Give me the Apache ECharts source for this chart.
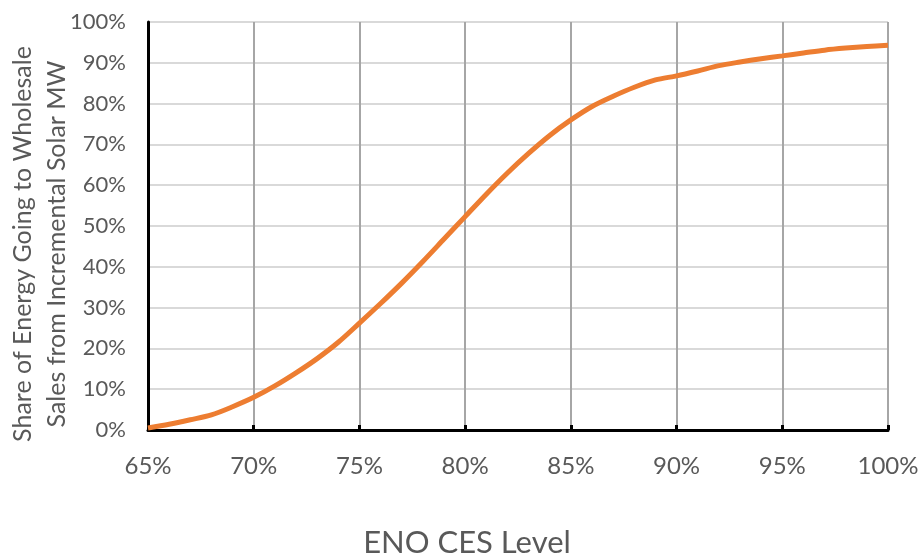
<!DOCTYPE html>
<html>
<head>
<meta charset="utf-8">
<script src="https://cdn.jsdelivr.net/npm/echarts@6/dist/echarts.min.js"></script>
<style>
  html, body { margin: 0; padding: 0; background: #fff; }
  #chart { width: 924px; height: 557px; }
</style>
</head>
<body>
<div id="chart"></div>
<script>
// CES level (%) and share of incremental solar energy sold wholesale (%)
const cesLevel = [65, 66, 67, 68, 69, 70, 71, 72, 73, 74, 75, 76, 77, 78, 79, 80, 81, 82,
  83, 84, 85, 86, 87, 88, 89, 90, 91, 92, 93, 94, 95, 96, 97, 98, 99, 100];
const wholesaleShare = [0.5, 1.4, 2.5, 3.7, 5.7, 8.0, 10.8, 14.0, 17.5, 21.5, 26.2, 31.0,
  36.0, 41.3, 46.8, 52.3, 57.8, 63.0, 67.8, 72.2, 76.0, 79.3, 81.8, 84.0, 85.8, 86.8,
  88.0, 89.3, 90.2, 91.0, 91.7, 92.4, 93.1, 93.6, 94.0, 94.3];

const xTitle = 'ENO CES Level';
const yTitleLines = ['Share of Energy Going to Wholesale', 'Sales from Incremental Solar MW'];

const points = cesLevel.map((x, i) => [x, wholesaleShare[i]]);

const font = 'Lato, "Open Sans", sans-serif';
const textGrey = '#595959';

// rotated two-line y-axis title, one text element per line
const yTitleX = [23, 57];
const yTitleGraphics = yTitleLines.map((line, i) => ({
  type: 'text',
  x: yTitleX[i], y: 244,
  rotation: Math.PI / 2,
  style: {
    text: line,
    fontFamily: font, fontSize: 25, fill: textGrey,
    align: 'center', verticalAlign: 'middle'
  }
}));

const chart = echarts.init(document.getElementById('chart'), null, { renderer: 'canvas' });
chart.setOption({
  animation: false,
  backgroundColor: '#ffffff',
  grid: { left: 148, right: 36, top: 22, bottom: 127, containLabel: false, outerBoundsMode: 'none' },
  graphic: [{
    type: 'text',
    x: 467, y: 543,
    style: {
      text: xTitle,
      fontFamily: font, fontSize: 31, fill: textGrey,
      align: 'center', verticalAlign: 'middle'
    }
  }].concat(yTitleGraphics),
  xAxis: {
    type: 'value',
    min: 65, max: 100, interval: 5,
    axisLine: { show: true, onZero: false, lineStyle: { color: '#000', width: 3 } },
    axisTick: { show: true, inside: true, length: 5, lineStyle: { color: '#000', width: 3 } },
    axisLabel: { formatter: '{value}%', margin: 24, fontFamily: font, fontSize: 24, color: textGrey },
    splitLine: { show: true, lineStyle: { color: '#a6a6a6', width: 2 } }
  },
  yAxis: {
    type: 'value',
    min: 0, max: 100, interval: 10,
    axisLine: { show: true, lineStyle: { color: '#000', width: 3 } },
    axisTick: { show: false },
    axisLabel: { formatter: '{value}%', margin: 22, fontFamily: font, fontSize: 22, color: textGrey },
    splitLine: { show: true, lineStyle: { color: '#d9d9d9', width: 2 } }
  },
  series: [{
    type: 'line',
    data: points,
    smooth: 0.3,
    showSymbol: false,
    lineStyle: { color: '#ED7D31', width: 5 },
    z: 5
  }]
});
</script>
</body>
</html>
